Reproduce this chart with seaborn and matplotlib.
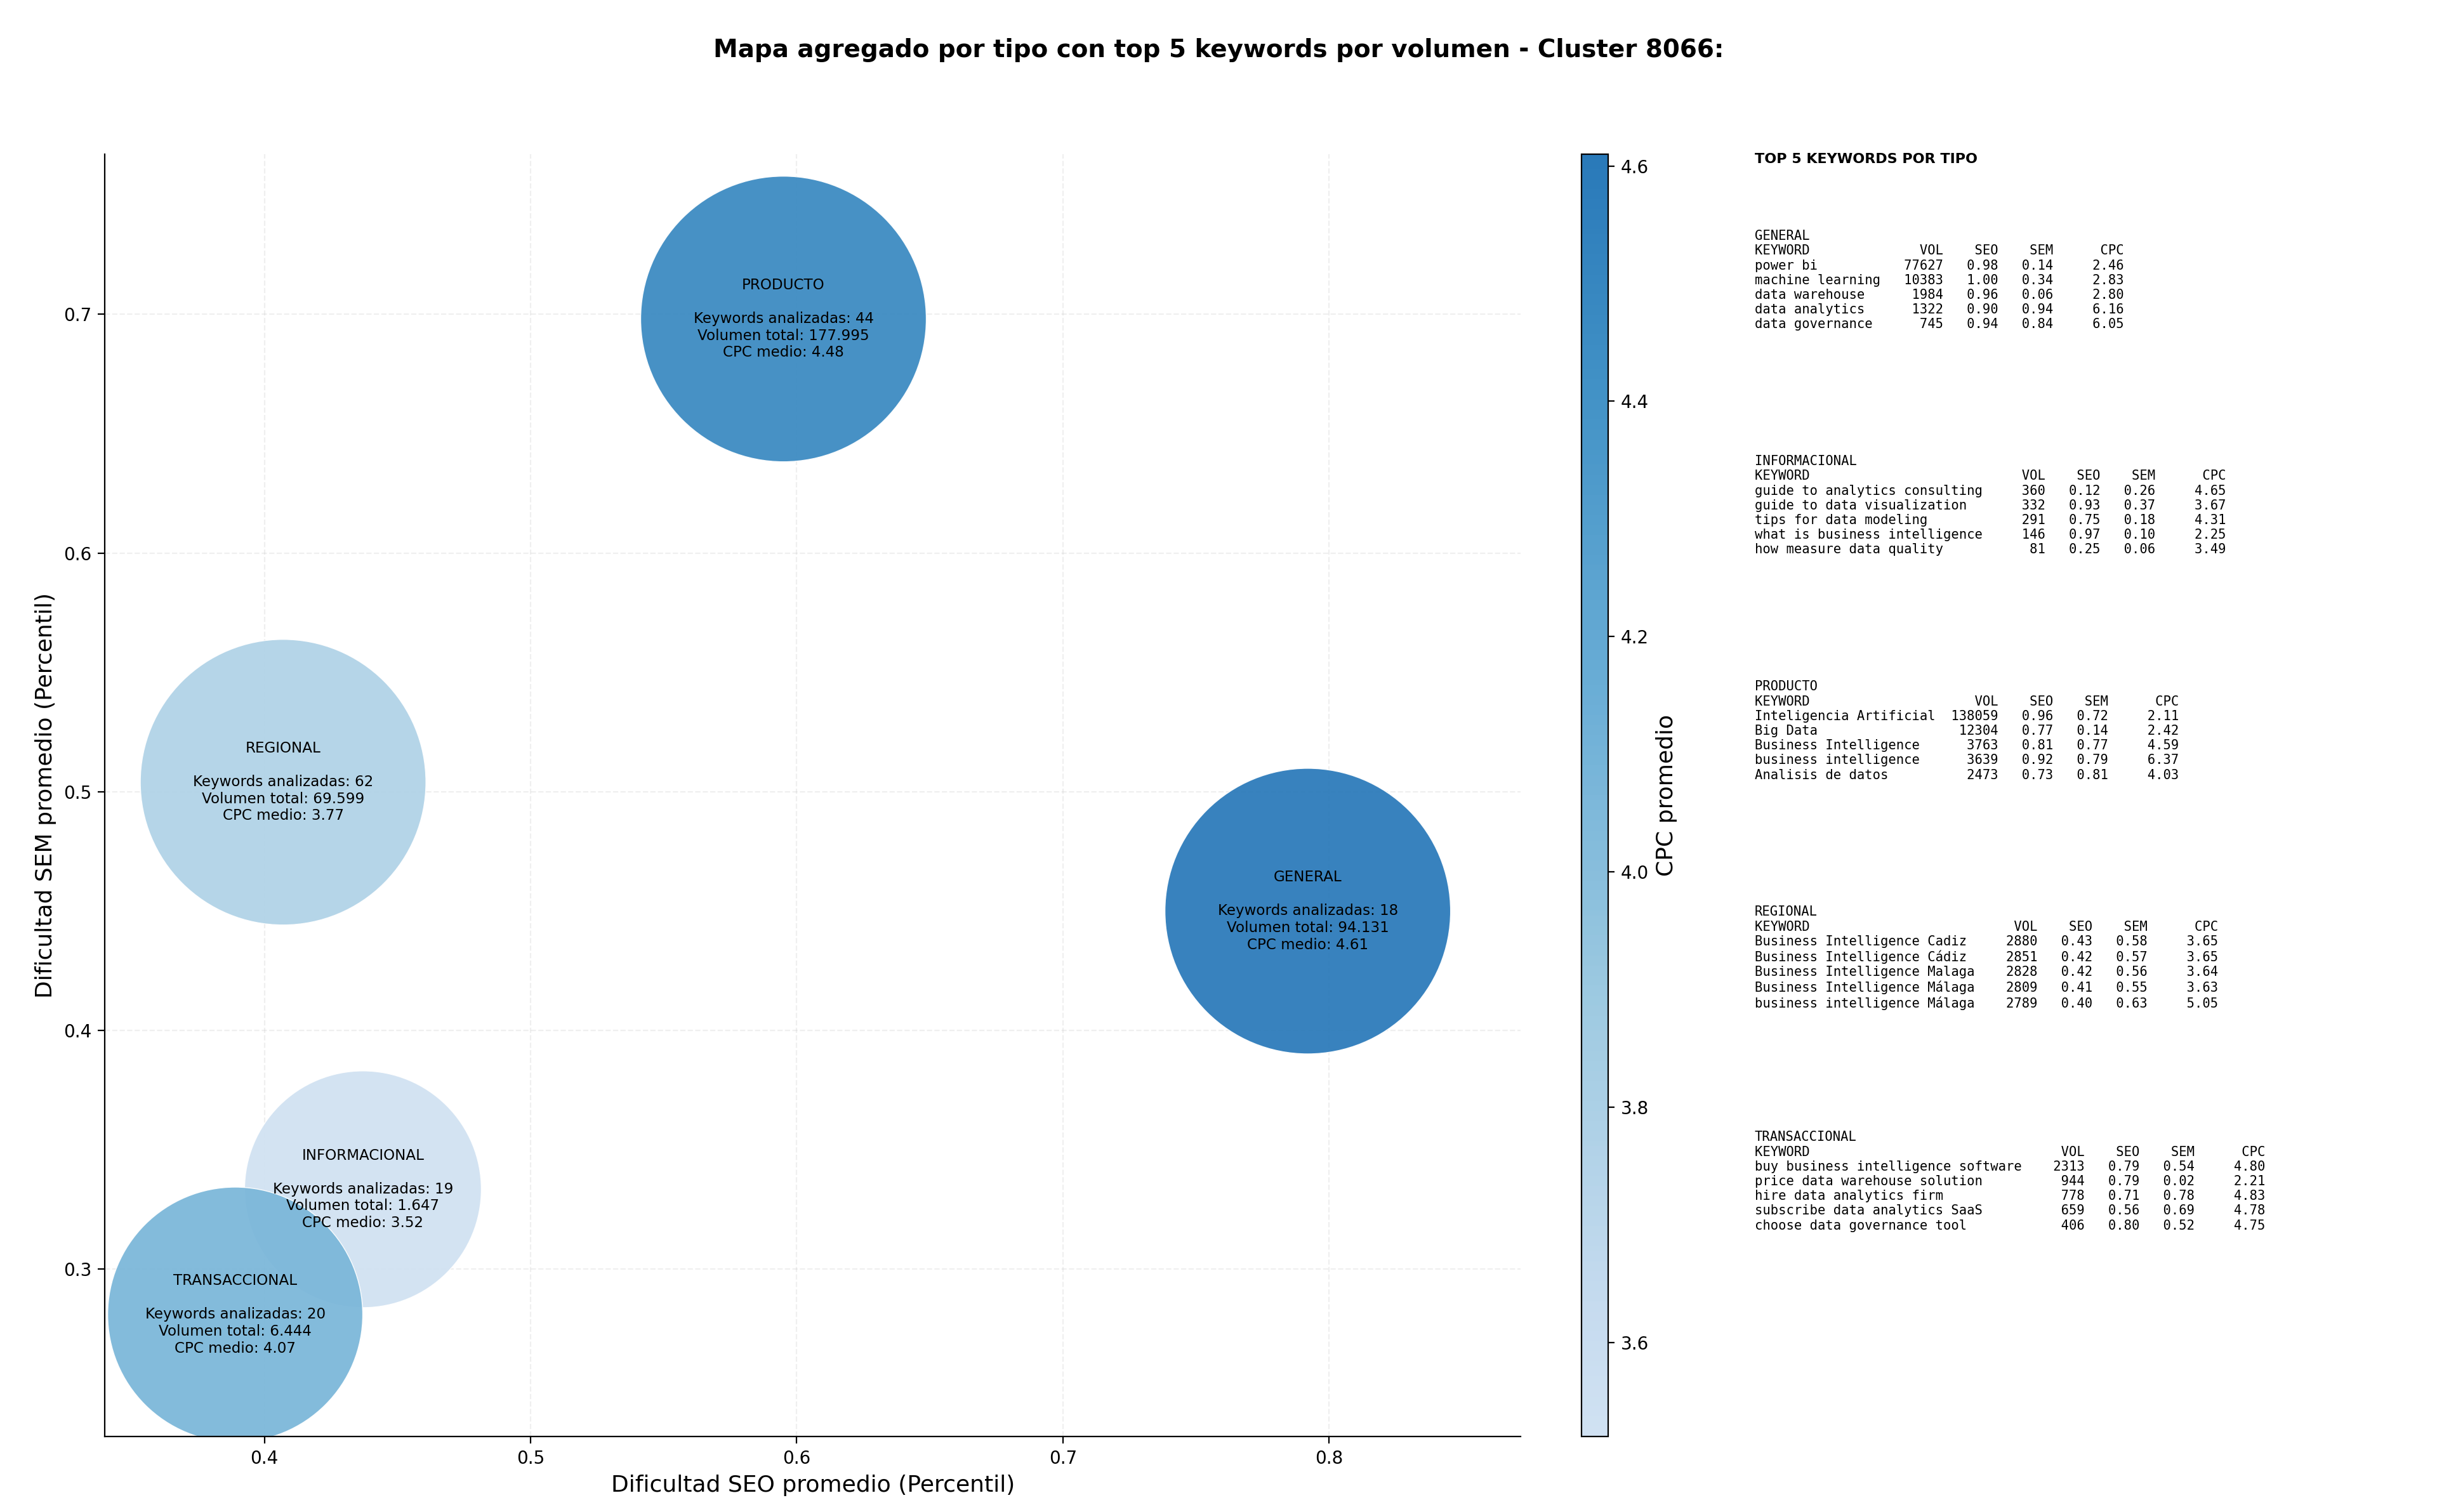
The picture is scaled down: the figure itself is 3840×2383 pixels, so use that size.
import numpy as np
import pandas as pd
import seaborn as sns
import matplotlib.pyplot as plt
from matplotlib.cm import ScalarMappable
from matplotlib.colors import Normalize, ListedColormap

tipos = ['PRODUCTO', 'REGIONAL', 'GENERAL', 'INFORMACIONAL', 'TRANSACCIONAL']
seo = [0.595, 0.407, 0.792, 0.437, 0.389]
sem = [0.698, 0.504, 0.450, 0.3335, 0.281]
n_kw = [44, 62, 18, 19, 20]
vol_total = [177995, 69599, 94131, 1647, 6444]
cpc = [4.48, 3.77, 4.61, 3.52, 4.07]

# top 5 keywords per tipo: keyword, vol, seo, sem, cpc
top_general = [('power bi', 77627, 0.98, 0.14, 2.46), ('machine learning', 10383, 1.00, 0.34, 2.83),
               ('data warehouse', 1984, 0.96, 0.06, 2.80), ('data analytics', 1322, 0.90, 0.94, 6.16),
               ('data governance', 745, 0.94, 0.84, 6.05)]
top_informacional = [('guide to analytics consulting', 360, 0.12, 0.26, 4.65),
                     ('guide to data visualization', 332, 0.93, 0.37, 3.67),
                     ('tips for data modeling', 291, 0.75, 0.18, 4.31),
                     ('what is business intelligence', 146, 0.97, 0.10, 2.25),
                     ('how measure data quality', 81, 0.25, 0.06, 3.49)]
top_producto = [('Inteligencia Artificial', 138059, 0.96, 0.72, 2.11), ('Big Data', 12304, 0.77, 0.14, 2.42),
                ('Business Intelligence', 3763, 0.81, 0.77, 4.59), ('business intelligence', 3639, 0.92, 0.79, 6.37),
                ('Analisis de datos', 2473, 0.73, 0.81, 4.03)]
top_regional = [('Business Intelligence Cadiz', 2880, 0.43, 0.58, 3.65),
                ('Business Intelligence Cádiz', 2851, 0.42, 0.57, 3.65),
                ('Business Intelligence Malaga', 2828, 0.42, 0.56, 3.64),
                ('Business Intelligence Málaga', 2809, 0.41, 0.55, 3.63),
                ('business intelligence Málaga', 2789, 0.40, 0.63, 5.05)]
top_transaccional = [('buy business intelligence software', 2313, 0.79, 0.54, 4.80),
                     ('price data warehouse solution', 944, 0.79, 0.02, 2.21),
                     ('hire data analytics firm', 778, 0.71, 0.78, 4.83),
                     ('subscribe data analytics SaaS', 659, 0.56, 0.69, 4.78),
                     ('choose data governance tool', 406, 0.80, 0.52, 4.75)]

df = pd.DataFrame({'tipo': tipos, 'seo': seo, 'sem': sem, 'n': n_kw, 'vol': vol_total, 'cpc': cpc})
# bubble size from log volume, capped
lv = np.clip(np.log10(df['vol']), 3.2, 4.8)
radius = 67 + (lv - 3.2) / 1.6 * 14
df['s'] = (2 * radius) ** 2

sns.set_style('white')
plt.rcParams.update({'text.color': 'black', 'axes.labelcolor': 'black',
                     'xtick.color': 'black', 'ytick.color': 'black', 'axes.edgecolor': 'black'})
fig = plt.figure(figsize=(19.2, 11.915), dpi=200)
ax = fig.add_axes([0.043, 0.05, 0.581, 0.848])
cax = fig.add_axes([0.649, 0.05, 0.011, 0.848])

cmap = ListedColormap(plt.get_cmap('Blues')(np.linspace(0.2, 0.72, 256)))
norm = Normalize(vmin=min(cpc), vmax=max(cpc))
sns.scatterplot(data=df, x='seo', y='sem', hue='cpc', palette=cmap, hue_norm=norm,
                s=df['s'].values, alpha=0.93, edgecolor='white', linewidth=0.5, legend=False, ax=ax)

for _, r in df.iterrows():
    vol_txt = f"{r['vol']:,}".replace(',', '.')
    ax.text(r['seo'], r['sem'],
            f"{r['tipo']}\n\nKeywords analizadas: {r['n']}\nVolumen total: {vol_txt}\nCPC medio: {r['cpc']:.2f}",
            ha='center', va='center', fontsize=8.3)

ax.set_xlim(0.34, 0.872)
ax.set_ylim(0.230, 0.767)
ax.set_xticks([0.4, 0.5, 0.6, 0.7, 0.8])
ax.set_yticks([0.3, 0.4, 0.5, 0.6, 0.7])
ax.tick_params(labelsize=10, length=4, left=True, bottom=True)
ax.grid(True, linestyle='--', alpha=0.3)
sns.despine(ax=ax)
ax.set_xlabel('Dificultad SEO promedio (Percentil)', fontsize=13)
ax.set_ylabel('Dificultad SEM promedio (Percentil)', fontsize=13)

cb = fig.colorbar(ScalarMappable(norm=norm, cmap=cmap), cax=cax)
cb.set_label('CPC promedio', fontsize=13)
cb.ax.tick_params(labelsize=10, left=False, right=True)

fig.suptitle('Mapa agregado por tipo con top 5 keywords por volumen - Cluster 8066:',
             fontsize=14, fontweight='bold', y=0.975)

fig.text(0.720, 0.899, 'TOP 5 KEYWORDS POR TIPO', fontsize=8, fontweight='bold', va='top')
bloques = [('GENERAL', top_general), ('INFORMACIONAL', top_informacional), ('PRODUCTO', top_producto),
           ('REGIONAL', top_regional), ('TRANSACCIONAL', top_transaccional)]
for i, (nombre, rows) in enumerate(bloques):
    w = max(len(k[0]) for k in rows)
    lines = [nombre, f"{'KEYWORD':<{w}}{'VOL':>8}{'SEO':>7}{'SEM':>7}{'CPC':>9}"]
    for k, v, s1, s2, c in rows:
        lines.append(f"{k:<{w}}{v:>8}{s1:>7.2f}{s2:>7.2f}{c:>9.2f}")
    fig.text(0.720, 0.848 - i * 0.149, '\n'.join(lines), fontsize=7.4, family='DejaVu Sans Mono',
             va='top', linespacing=1.2)

fig.savefig('out.png', dpi=200)
